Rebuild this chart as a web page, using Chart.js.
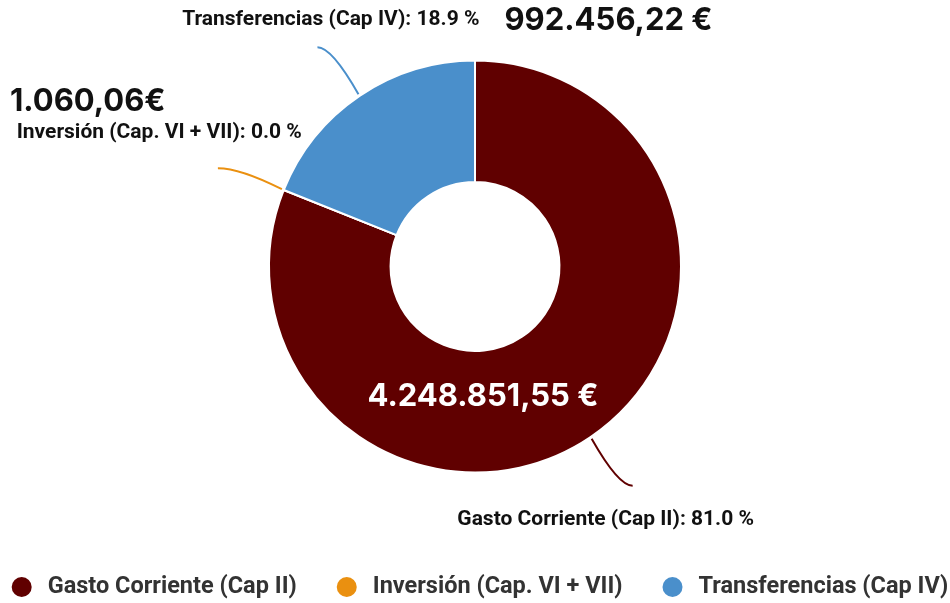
<!DOCTYPE html>
<html>
<head>
<meta charset="utf-8">
<script src="https://cdn.jsdelivr.net/npm/chart.js@4.4.1/dist/chart.umd.min.js"></script>
<style>
  html, body { margin: 0; padding: 0; background: #fff; }
  #wrap { width: 950px; height: 603px; position: relative; }
</style>
</head>
<body>
<div id="wrap"><canvas id="chart"></canvas></div>
<script>
const categories = ['Gasto Corriente (Cap II)', 'Inversión (Cap. VI + VII)', 'Transferencias (Cap IV)'];
const amounts = [4248851.55, 1060.06, 992456.22];
const amountLabels = ['4.248.851,55 €', '1.060,06€', '992.456,22 €'];
const sliceColors = ['#600000', '#EA9010', '#4A8FCB'];

const total = amounts.reduce((a, b) => a + b, 0);
const percents = amounts.map(v => (v / total * 100).toFixed(1));

// where each outside label goes, relative to the end of its connector
const labelSpots = [
    { bend: [41, 47], text: [-27, 34], align: 'center' },
    { bend: [-64, -21], text: [84, -35], align: 'right' },
    { bend: [-41, -47], text: [162, -27], align: 'right' }
];

const sliceLabels = {
    id: 'sliceLabels',
    afterDatasetsDraw(chart) {
        const ctx = chart.ctx;
        const arcs = chart.getDatasetMeta(0).data;
        ctx.save();
        arcs.forEach((arc, i) => {
            const p = arc.getProps(['x', 'y', 'startAngle', 'endAngle', 'outerRadius']);
            const mid = (p.startAngle + p.endAngle) / 2;
            const r = p.outerRadius + 2;
            const x0 = p.x + Math.cos(mid) * r;
            const y0 = p.y + Math.sin(mid) * r;
            const spot = labelSpots[i];
            const x2 = x0 + spot.bend[0], y2 = y0 + spot.bend[1];

            ctx.strokeStyle = sliceColors[i];
            ctx.lineWidth = 2;
            ctx.beginPath();
            ctx.moveTo(x0, y0);
            ctx.quadraticCurveTo(x0 + spot.bend[0] * 0.65, y2, x2, y2);
            ctx.stroke();

            ctx.fillStyle = '#111';
            ctx.font = 'bold 21px Roboto';
            ctx.textAlign = spot.align;
            ctx.textBaseline = 'middle';
            ctx.fillText(`${categories[i]}: ${percents[i]} %`, x2 + spot.text[0], y2 + spot.text[1]);

            // amounts
            ctx.font = '700 31px Inter';
            if (i === 0) {
                ctx.fillStyle = '#fff';
                ctx.textAlign = 'center';
                ctx.fillText(amountLabels[i], p.x + 8, p.y + 130);
            } else if (i === 1) {
                ctx.fillStyle = '#111';
                ctx.textAlign = 'left';
                ctx.fillText(amountLabels[i], 10, y2 + spot.text[1] - 32);
            } else {
                ctx.fillStyle = '#111';
                ctx.textAlign = 'left';
                ctx.fillText(amountLabels[i], x2 + spot.text[0] + 25, y2 + spot.text[1]);
            }
        });
        ctx.restore();
    }
};

// legend row along the bottom
const bottomLegend = {
    id: 'bottomLegend',
    afterDraw(chart) {
        const ctx = chart.ctx;
        const gap = 40, dot = 20, textGap = 16;
        ctx.save();
        ctx.font = 'bold 23.5px Roboto';
        const widths = categories.map(c => dot + textGap + ctx.measureText(c).width);
        const rowWidth = widths.reduce((a, b) => a + b, 0) + gap * (categories.length - 1);
        let x = (chart.width - rowWidth) / 2 + 5;
        const y = 587;
        categories.forEach((c, i) => {
            ctx.fillStyle = sliceColors[i];
            ctx.beginPath();
            ctx.arc(x + dot / 2, y, dot / 2, 0, Math.PI * 2);
            ctx.fill();
            ctx.fillStyle = '#333';
            ctx.textAlign = 'left';
            ctx.textBaseline = 'middle';
            ctx.fillText(c, x + dot + textGap, y);
            x += widths[i] + gap;
        });
        ctx.restore();
    }
};

new Chart(document.getElementById('chart'), {
    type: 'doughnut',
    data: {
        labels: categories,
        datasets: [{
            data: amounts,
            backgroundColor: sliceColors,
            borderColor: '#fff',
            borderWidth: 2,
            hoverOffset: 0
        }]
    },
    options: {
        responsive: true,
        maintainAspectRatio: false,
        animation: false,
        radius: 206,
        cutout: '41%',
        layout: { padding: { top: 0, bottom: 70 } },
        plugins: {
            tooltip: { enabled: false },
            legend: { display: false }
        }
    },
    plugins: [sliceLabels, bottomLegend]
});
</script>
</body>
</html>
